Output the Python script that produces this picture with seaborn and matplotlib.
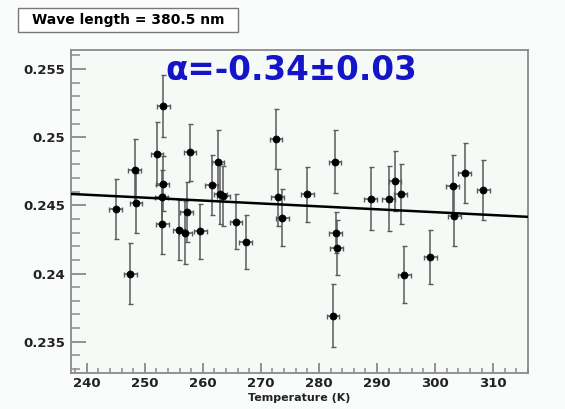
import numpy as np
import pandas as pd
import matplotlib
matplotlib.use("Agg")
import matplotlib.pyplot as plt
from matplotlib.patches import Rectangle
import seaborn as sns

# ---- data ----
temperature = [245.0, 247.5, 248.3, 248.5, 252.1, 253.2, 253.1, 252.9, 253.0,
               255.9, 257.2, 257.0, 257.8, 259.6, 261.5, 262.6, 263.0, 263.5,
               265.7, 267.4, 272.6, 272.9, 273.7, 278.0, 282.4, 282.75, 282.9,
               283.05, 288.9, 292.0, 293.1, 294.1, 294.7, 299.2, 303.0, 303.3,
               305.1, 308.3]
ratio = [0.2447, 0.2400, 0.2476, 0.2452, 0.2488, 0.2523, 0.2466, 0.2456, 0.2436,
         0.2432, 0.2445, 0.2430, 0.2489, 0.2431, 0.2465, 0.2482, 0.2458, 0.2457,
         0.2438, 0.2423, 0.2499, 0.2456, 0.2441, 0.2458, 0.2369, 0.2482, 0.2430,
         0.2419, 0.2455, 0.2455, 0.2468, 0.2458, 0.2399, 0.2412, 0.2464, 0.2442,
         0.2474, 0.2461]
ratio_err = [0.0022, 0.00225, 0.0023, 0.0022, 0.0023, 0.00225, 0.0020, 0.0020, 0.0022,
             0.0022, 0.0022, 0.0023, 0.0021, 0.0020, 0.0022, 0.0023, 0.0022, 0.0022,
             0.0020, 0.0020, 0.0022, 0.0021, 0.0021, 0.0020, 0.0023, 0.0023, 0.0015,
             0.0020, 0.0023, 0.0024, 0.0022, 0.0022, 0.0021, 0.0020, 0.0023, 0.0022,
             0.0022, 0.0022]
temperature_err = [1.1] * len(temperature)

fit_intercept_240 = 0.24578   # fit value at T = 240 K
fit_slope = -2.135e-5         # per K

x_ticks = [240, 250, 260, 270, 280, 290, 300, 310]
x_tick_labels = ["240", "250", "260", "270", "280", "290", "300", "310"]
y_ticks = [0.235, 0.24, 0.245, 0.25, 0.255]
y_tick_labels = ["0.235", "0.24", "0.245", "0.25", "0.255"]

title_text = "Wave length = 380.5 nm"
alpha_text = "α=-0.34±0.03"
x_label = "Temperature (K)"

df = pd.DataFrame({"T": temperature, "R": ratio, "Rerr": ratio_err, "Terr": temperature_err})

# ---- styling ----
sns.set_theme(style="ticks")
plt.rcParams["font.family"] = ["DejaVu Sans"]

W, H = 565, 409
fig = plt.figure(figsize=(W / 100, H / 100), dpi=100, facecolor="#fafcfb")
ax_l, ax_r, ax_t, ax_b = 71, 528, 50, 373
ax = fig.add_axes([ax_l / W, 1 - ax_b / H, (ax_r - ax_l) / W, (ax_b - ax_t) / H])
ax.set_facecolor("#f5faf7")

xlim = (237.3, 316.0)
ylim = (0.2327, 0.2564)

# error bars
ax.errorbar(df["T"], df["R"], yerr=df["Rerr"], xerr=df["Terr"], fmt="none",
            ecolor="#5a5a5a", elinewidth=1.1, capsize=1.8, capthick=1.0, zorder=2)
# points
sns.scatterplot(data=df, x="T", y="R", ax=ax, color="black", s=26,
                edgecolor="black", linewidth=0.5, zorder=3, legend=False)
# fit line
fit_x = np.array(xlim)
fit_df = pd.DataFrame({"T": fit_x, "R": fit_intercept_240 + fit_slope * (fit_x - 240)})
sns.lineplot(data=fit_df, x="T", y="R", ax=ax, color="black", linewidth=1.8, zorder=4)

ax.set_xlim(*xlim)
ax.set_ylim(*ylim)
ax.set_xticks(x_ticks)
ax.set_xticklabels(x_tick_labels)
ax.set_yticks(y_ticks)
ax.set_yticklabels(y_tick_labels)
ax.xaxis.set_minor_locator(matplotlib.ticker.MultipleLocator(2))
ax.yaxis.set_minor_locator(matplotlib.ticker.MultipleLocator(0.001))

frame_col = "#8a8a8a"
for s in ax.spines.values():
    s.set_color(frame_col)
    s.set_linewidth(1.3)
ax.tick_params(axis="x", which="major", direction="in", length=7, width=1.3,
               color=frame_col, labelsize=9.5, pad=3, top=False)
ax.tick_params(axis="x", which="minor", direction="in", length=3.6, width=1.1,
               color=frame_col, top=False)
ax.tick_params(axis="y", which="major", direction="in", length=11, width=1.3,
               color=frame_col, labelsize=9.5, pad=4, right=False)
ax.tick_params(axis="y", which="minor", direction="in", length=6.5, width=1.1,
               color=frame_col, right=False)
for lab in ax.get_xticklabels() + ax.get_yticklabels():
    lab.set_fontweight("bold")
    lab.set_color("#222222")

ax.set_xlabel(x_label, fontsize=8, fontweight="bold", color="#222222", labelpad=2)
ax.set_ylabel("")

# alpha annotation
fig.text(165 / W, 1 - 71 / H, alpha_text, color="#1414c8", fontsize=23.5,
         fontweight="bold", ha="left", va="center")

# title box
fig.patches.append(Rectangle((18 / W, 1 - 32 / H), (238 - 18) / W, 24 / H,
                             transform=fig.transFigure, facecolor="white",
                             edgecolor="#777777", linewidth=1.0))
fig.text(128 / W, 1 - 20 / H, title_text, fontsize=10, fontweight="bold",
         ha="center", va="center", color="black")

fig.savefig("out.png", dpi=100, facecolor=fig.get_facecolor())
